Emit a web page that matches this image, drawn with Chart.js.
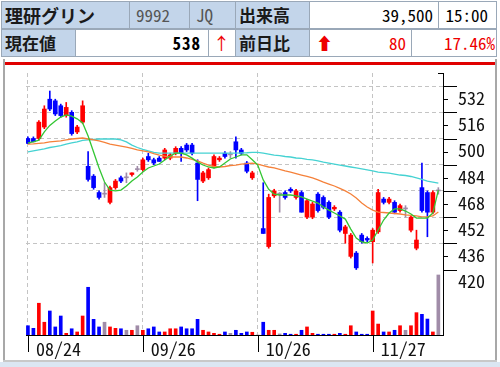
<!DOCTYPE html>
<html><head><meta charset="utf-8">
<script src="https://cdn.jsdelivr.net/npm/chart.js@4/dist/chart.umd.min.js"></script>
<style>
html,body{margin:0;padding:0;}
body{width:500px;height:367px;overflow:hidden;background:#fff;position:relative;font-family:"Noto Sans CJK JP",sans-serif;}
.c{position:absolute;box-sizing:border-box;height:28px;line-height:26px;border:1px solid #9aa8b8;white-space:nowrap;overflow:hidden;}
.b{background:#c3d5ea;}
.w{background:#fff;}
.j{font-size:17px;color:#1a1a1a;padding-left:3px;font-weight:bold;}
.n{font-family:"Noto Sans Mono CJK JP","Liberation Mono",monospace;font-size:17px;}
.r{text-align:right;padding-right:5px;}
#cv{position:absolute;left:0;top:0;z-index:2;}
</style></head>
<body>
<div class="c b j" style="left:1px;top:1px;width:129px;font-size:18px;">理研グリン</div>
<div class="c b n" style="left:129px;top:1px;width:61px;color:#555;padding-left:6px;">9992</div>
<div class="c b n" style="left:189px;top:1px;width:47px;color:#555;padding-left:6px;">JQ</div>
<div class="c b j" style="left:235px;top:1px;width:75px;">出来高</div>
<div class="c w n r" style="left:309px;top:1px;width:130px;">39,500</div>
<div class="c w n r" style="left:438px;top:1px;width:59px;padding-right:8px;">15:00</div>
<div class="c b j" style="left:1px;top:29px;width:75px;">現在値</div>
<div class="c w n r" style="left:75px;top:29px;width:134px;font-weight:bold;padding-right:7px;letter-spacing:1px;">538</div>
<div class="c w" style="left:208px;top:29px;width:28px;color:#e00;font-size:17px;padding-left:4px;">↑</div>
<div class="c b j" style="left:235px;top:29px;width:75px;">前日比</div>
<div class="c w n r" style="left:309px;top:29px;width:103px;color:#e00;"><span style="float:left;padding-left:6px;font-weight:bold;">⬆</span>80</div>
<div class="c w n r" style="left:411px;top:29px;width:86px;color:#e00;padding-right:1px;">17.46%</div>
<div style="position:absolute;left:3px;top:59px;width:2px;height:302px;background:#a8a8a8;"></div>
<div style="position:absolute;left:495px;top:59px;width:2px;height:302px;background:#a8a8a8;"></div>
<div style="position:absolute;left:5px;top:62px;width:490px;height:3px;background:#e00000;"></div>
<div style="position:absolute;left:3px;top:360px;width:494px;height:2px;background:#c8c8c8;"></div>
<div style="position:absolute;left:0;top:362px;width:500px;height:5px;background:#dbe6f2;"></div>
<canvas id="cv" width="500" height="367"></canvas>
<script>
// ---- data ----
const dateLabels = ['08/24','09/26','10/26','11/27'];
const dateIndex = [0,21,42,63];
const priceTicks = [420,436,452,468,484,500,516,532];
const opens  = [500,500,500,507,524,523,520,514,516,504,510,483,477,467,466,461,470,476,476,478,481,481,489,487,488,488,488,491,494,496,496,485,474,476,483,487,491,490,498,493,485,476,null,445,434,465,466,467,469,464,467,452,452,466,464,461,457,455,442,428,430,441,439,437,443,463,461,461,456,457,444,433,470,467,455,468];
const highs  = [501,501,511,520,529,524,521,522,517,508,523,492,478,468,473,471,475,477,479,479,483,488,491,488,489,494,491,495,495,497,497,487,480,482,490,489,492,492,501,494,486,480,null,473,466,469,467,468,470,469,468,463,461,467,465,462,459,456,447,442,431,442,440,445,469,464,464,462,460,459,453,444,485,468,468,470];
const lows   = [497,498,499,506,517,514,513,513,502,503,509,474,469,463,464,460,469,473,473,477,480,480,486,484,486,487,487,490,486,492,490,462,473,475,482,486,488,488,488,490,479,475,null,442,433,464,455,463,467,463,455,451,451,455,457,451,456,443,436,427,420,436,437,424,442,460,460,454,455,452,443,432,455,440,454,466];
const closes = [497,498,510,518,518,515,514,519,503,507,520,475,470,464,466,470,474,474,476,479,481,487,487,485,486,493,490,494,491,493,491,475,479,481,489,488,489,490,493,491,480,479,null,442,464,468,466,464,468,468,455,462,460,456,458,452,458,444,446,441,421,437,438,444,467,461,463,455,459,457,452,438,456,455,467,468];
const volumes = [6100,4400,20900,8400,15800,5300,12500,1100,4100,2000,12500,31400,10300,5300,8400,5300,4400,4100,3100,3100,6100,3100,4100,5300,2000,2000,4100,4100,5300,4100,4100,10300,3100,2000,1100,500,2000,1100,3100,1100,2000,1800,0,8400,3100,3100,700,1100,500,500,3100,5300,1100,500,500,500,500,1100,500,6100,2000,500,500,15800,7200,2000,2000,3100,6100,3100,6100,14700,13600,10500,2000,39500];
const ma5  = [497.3,498,499,504,508,510.7,513.1,514.4,513.7,512,509.5,501.5,491.8,482,473.4,468.5,468,468.5,471,474,476.5,479.5,482,483.2,484.4,486.9,489.3,491.1,491.1,490,488,485.6,483.8,482.6,482,482.6,485,487.5,488.7,490,490,487,483.8,474.7,469,466,465.5,465.5,465.5,465,464.3,463,461.8,460.6,458.2,456.3,454.5,452.7,450.8,444.7,439.2,436.8,436.2,438,444.1,450.2,454.5,457,457,455.7,453.9,451.4,451.4,451.4,454.5,468.5];
const ma25 = [496.6,496.7,497,497.3,497.9,498.2,498.5,499.1,499.7,500,500.3,499.7,499.1,498.5,497.6,496.6,496,495.4,494.8,493.9,493,492.4,491.8,490.8,489.9,489.2,488.7,488.7,488.7,488.1,487.2,486.3,485,483.8,482.9,482.6,482.9,483.5,483.8,484.4,484.7,485,484.4,483.5,482.6,482,481.1,480.2,479.5,478.6,477.7,476.8,475.9,474.7,473.4,472.2,471,469.5,468,466.1,463.7,460.6,458.2,456.3,455.1,454.8,454.5,454.2,453.9,453.3,453,452.7,452.1,452.1,452.7,455.1];
const ma75 = [491.8,492.4,493,493.6,494.5,495.1,495.7,496.6,497.3,497.9,498.8,499.1,499.4,499.7,499.7,499.7,499.7,499.1,497.9,496,494.5,493.3,492.4,491.5,491.1,491.1,491.1,491.1,491.1,491.1,491.1,491.1,491.1,491.1,491.1,491.1,491.1,491.1,491.1,491.2,491.3,491.5,491.5,491.1,490.5,489.9,489.6,489,488.7,488.1,487.8,487.2,486.9,486.3,485.6,485,484.4,483.8,483.2,482.6,482,481.4,480.8,480.2,479.5,479.2,478.9,478.3,477.7,477.4,476.8,475.9,475,474,473.4,472.8];

const RED='#ff0000', BLUE='#0000ff', GRAY='#a08ca8';
const colorOf = i => closes[i]==null ? GRAY : (closes[i]>opens[i] ? RED : (closes[i]<opens[i] ? BLUE : GRAY));
const idx = opens.map((_,i)=>i);
const colors = idx.map(colorOf);
const bodies = idx.map(i => ({x:i, y: opens[i]==null ? null : [Math.min(opens[i],closes[i]), Math.max(opens[i],closes[i])]}));
const wicks = idx.map(i => ({x:i, y: opens[i]==null ? null : [lows[i], highs[i]]}));
const vols = idx.map(i => ({x:i, y:volumes[i]}));
const line = arr => arr.map((v,i)=>({x:i,y:v}));

const monoFont = '"Noto Sans Mono CJK JP","Liberation Mono",monospace';

const tickMarks = {
  id:'tickMarks',
  afterDraw(chart){
    const {ctx, chartArea:a, scales:{x,y}} = chart;
    ctx.save();
    ctx.strokeStyle='#000'; ctx.lineWidth=1; ctx.setLineDash([]);
    ctx.beginPath();
    dateIndex.forEach(v=>{const px=Math.round(x.getPixelForValue(v))+0.5; ctx.moveTo(px,a.bottom); ctx.lineTo(px,a.bottom+17);});
    priceTicks.forEach(v=>{
      const py=Math.round(y.getPixelForValue(v))+0.5; ctx.moveTo(a.right,py); ctx.lineTo(a.right+14,py);
      if(v+8<y.max){const pm=Math.round(y.getPixelForValue(v+8))+0.5; ctx.moveTo(a.right,pm); ctx.lineTo(a.right+5,pm);}
    });
    const pt=Math.round(y.getPixelForValue(y.max))+0.5; ctx.moveTo(a.right-5,pt); ctx.lineTo(a.right+1,pt);
    ctx.stroke(); ctx.restore();
  }
};

new Chart(document.getElementById('cv'), {
  data:{datasets:[
    {type:'line', label:'5', data:line(ma5), borderColor:'#33c633', borderWidth:1.3, pointRadius:0, tension:0, yAxisID:'y', order:0},
    {type:'line', label:'25', data:line(ma25), borderColor:'#f5813a', borderWidth:1.3, pointRadius:0, tension:0, yAxisID:'y', order:0},
    {type:'line', label:'75', data:line(ma75), borderColor:'#45d2d2', borderWidth:1.3, pointRadius:0, tension:0, yAxisID:'y', order:0},
    {type:'bar', label:'body', data:bodies, backgroundColor:colors, barThickness:4, minBarLength:1, grouped:false, yAxisID:'y', order:1},
    {type:'bar', label:'wick', data:wicks, backgroundColor:colors, barThickness:1, grouped:false, yAxisID:'y', order:2},
    {type:'bar', label:'vol', data:vols, backgroundColor:colors, barThickness:3, grouped:false, yAxisID:'yv', order:3}
  ]},
  options:{
    responsive:false, animation:false, devicePixelRatio:1,
    layout:{padding:{left:26, top:73, right:0, bottom:0}},
    plugins:{legend:{display:false}, tooltip:{enabled:false}},
    scales:{
      x:{type:'linear', min:-0.35, max:75.85, offset:false, bounds:'data',
        afterBuildTicks:s=>{s.ticks=dateIndex.map(v=>({value:v}));},
        afterFit:s=>{s.height=32;},
        ticks:{autoSkip:false, maxRotation:0, align:'start', labelOffset:8, padding:3, color:'#111', font:{family:monoFont, size:18},
          callback:v=>dateLabels[dateIndex.indexOf(v)]},
        grid:{color:'#c4c4c4', drawTicks:false, lineWidth:1, offset:false},
        border:{display:true, color:'#000', width:1, dash:[4,3]}
      },
      y:{type:'linear', position:'right', min:380, max:540,
        afterBuildTicks:s=>{s.ticks=priceTicks.map(v=>({value:v}));},
        afterFit:s=>{s.width=57;},
        ticks:{padding:15, labelOffset:12, color:'#111', font:{family:monoFont, size:18}, callback:v=>String(v)},
        grid:{drawTicks:false, color:c=>(c.tick && c.tick.value>=436)?'#c4c4c4':'rgba(0,0,0,0)'},
        border:{display:true, color:'#000', width:1, dash:[4,3]}
      },
      yv:{type:'linear', display:false, min:0, max:172400}
    }
  },
  plugins:[tickMarks]
});
</script>
</body></html>
